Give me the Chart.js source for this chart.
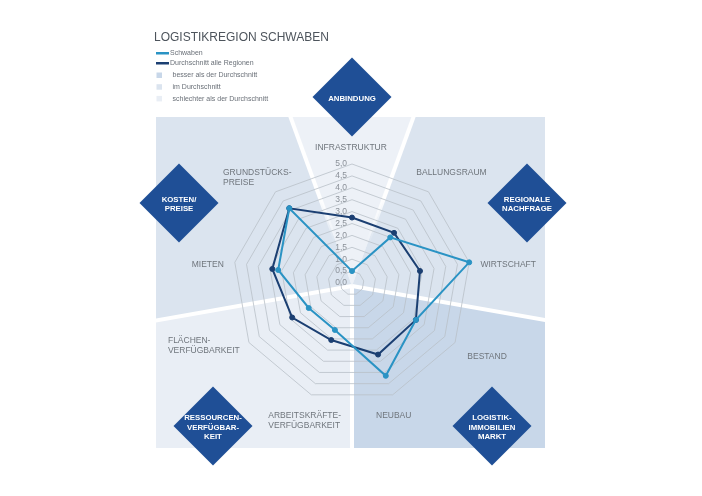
<!DOCTYPE html>
<html>
<head>
<meta charset="utf-8">
<script src="https://cdn.jsdelivr.net/npm/chart.js@4/dist/chart.umd.min.js"></script>
<style>
html,body{margin:0;padding:0;background:#ffffff;}
canvas{display:block;}
</style>
</head>
<body>
<canvas id="c" width="702" height="496"></canvas>
<script>
// ---- data ----
const categories = [
  'INFRASTRUKTUR',
  'BALLUNGSRAUM',
  'WIRTSCHAFT',
  'BESTAND',
  'NEUBAU',
  ['ARBEITSKRÄFTE-', 'VERFÜGBARKEIT'],
  ['FLÄCHEN-', 'VERFÜGBARKEIT'],
  'MIETEN',
  ['GRUNDSTÜCKS-', 'PREISE']
];
const schwaben     = [0.5, 2.5, 5.0, 3.1, 4.15, 2.1, 2.1, 3.15, 4.1];
const durchschnitt = [2.75, 2.75, 2.9, 3.1, 3.2, 2.55, 2.9, 3.4, 4.1];
const tickValues = [0, 0.5, 1, 1.5, 2, 2.5, 3, 3.5, 4, 4.5, 5];
const seriesNames = ['Schwaben', 'Durchschnitt alle Regionen'];
const ratingNames = ['besser als der Durchschnitt', 'im Durchschnitt', 'schlechter als der Durchschnitt'];
const groupNames = [
  ['ANBINDUNG'],
  ['REGIONALE', 'NACHFRAGE'],
  ['LOGISTIK-', 'IMMOBILIEN', 'MARKT'],
  ['RESSOURCEN-', 'VERFÜGBAR-', 'KEIT'],
  ['KOSTEN/', 'PREISE']
];
const groupRatings = [2, 1, 0, 2, 1]; // index into ratingNames
const titleText = 'LOGISTIKREGION SCHWABEN';

// ---- styles / layout ----
const FONT = '"Liberation Sans", Arial, sans-serif';
const colSchwaben = '#2a93c4';
const colAvg = '#1b3f72';
const ratingColors = ['#c8d7e9', '#dbe4ef', '#e9eef5'];
const wedgeColor = '#edf1f7';
const diamondColor = '#1f4f96';
const panel = {x: 156, y: 117, w: 389, h: 331};
// sector boundaries (deg clockwise from top)
const sectorFrom = [340, 20, 100, 180, 260];
const sectorTo   = [380, 100, 180, 260, 340];
const diamondPos = [[352, 97], [527, 203], [492, 426], [213, 426], [179, 203]];
const labelOffsets = [[-1, -16], [23, -19], [39, 2], [32, 14], [1, 21], [-43, 21], [-81, -1.5], [-27, 2], [-52.5, -19]];
const labelAlign = ['center', 'center', 'center', 'center', 'center', 'left', 'left', 'center', 'left'];

const rad = d => (d - 90) * Math.PI / 180;

const bgPlugin = {
  id: 'bg',
  beforeDraw(chart) {
    const ctx = chart.ctx, s = chart.scales.r;
    const cx = s.xCenter, cy = s.yCenter;
    const ox = cx, oy = cy + 3; // origin of the background sectors
    ctx.save();
    ctx.fillStyle = '#ffffff';
    ctx.fillRect(0, 0, chart.width, chart.height);
    ctx.beginPath();
    ctx.rect(panel.x, panel.y, panel.w, panel.h);
    ctx.clip();
    sectorFrom.forEach((f, i) => {
      ctx.beginPath();
      ctx.moveTo(ox, oy);
      ctx.arc(ox, oy, 1200, rad(f), rad(sectorTo[i]));
      ctx.closePath();
      ctx.fillStyle = i === 0 ? wedgeColor : ratingColors[groupRatings[i]];
      ctx.fill();
    });
    // tick labels
    ctx.font = '8.5px ' + FONT;
    ctx.fillStyle = '#8a9098';
    ctx.textAlign = 'right';
    ctx.textBaseline = 'middle';
    tickValues.forEach(v => {
      const d = s.getDistanceFromCenterForValue(v);
      ctx.fillText(v.toFixed(1).replace('.', ','), cx - 5, cy - d);
    });
    // white separator lines
    ctx.lineWidth = 4;
    sectorFrom.forEach((f, i) => {
      const ex = ox + 1200 * Math.cos(rad(f)), ey = oy + 1200 * Math.sin(rad(f));
      ctx.beginPath();
      if (i < 2) {
        // wedge edges fade out towards the centre
        const g = ctx.createLinearGradient(
          ox + 45 * Math.cos(rad(f)), oy + 45 * Math.sin(rad(f)),
          ox + 95 * Math.cos(rad(f)), oy + 95 * Math.sin(rad(f)));
        g.addColorStop(0, 'rgba(255,255,255,0)');
        g.addColorStop(1, 'rgba(255,255,255,1)');
        ctx.strokeStyle = g;
      } else {
        ctx.strokeStyle = '#ffffff';
      }
      ctx.moveTo(ox, oy);
      ctx.lineTo(ex, ey);
      ctx.stroke();
    });
    ctx.restore();
  },
  afterDraw(chart) {
    const ctx = chart.ctx, s = chart.scales.r;
    ctx.save();
    // point labels
    ctx.font = '8.5px ' + FONT;
    ctx.fillStyle = '#6f757c';
    ctx.textBaseline = 'middle';
    categories.forEach((lab, i) => {
      const p = s.getPointPosition(i, s.drawingArea);
      const lines = Array.isArray(lab) ? lab : [lab];
      ctx.textAlign = labelAlign[i];
      const x = p.x + labelOffsets[i][0];
      const y0 = p.y + labelOffsets[i][1];
      lines.forEach((ln, k) => ctx.fillText(ln, x, y0 + k * 10));
    });
    // diamonds
    const half = 39.5;
    groupNames.forEach((lines, i) => {
      const [dx, dy] = diamondPos[i];
      ctx.beginPath();
      ctx.moveTo(dx, dy - half);
      ctx.lineTo(dx + half, dy);
      ctx.lineTo(dx, dy + half);
      ctx.lineTo(dx - half, dy);
      ctx.closePath();
      ctx.fillStyle = diamondColor;
      ctx.fill();
      ctx.font = 'bold 7.8px ' + FONT;
      ctx.fillStyle = '#ffffff';
      ctx.textAlign = 'center';
      ctx.textBaseline = 'middle';
      const lh = 9.6;
      const top = dy + 1.5 - (lines.length - 1) * lh / 2;
      lines.forEach((ln, k) => ctx.fillText(ln, dx, top + k * lh));
    });
    // title
    ctx.font = '12px ' + FONT;
    ctx.fillStyle = '#4d545c';
    ctx.textAlign = 'left';
    ctx.textBaseline = 'alphabetic';
    ctx.fillText(titleText, 154, 41);
    // legend
    ctx.font = '7px ' + FONT;
    ctx.textBaseline = 'middle';
    ctx.fillStyle = colSchwaben;
    ctx.fillRect(156, 52, 13, 2.5);
    ctx.fillStyle = colAvg;
    ctx.fillRect(156, 62, 13, 2.5);
    ctx.fillStyle = '#6a7078';
    ctx.fillText(seriesNames[0], 170, 53.5);
    ctx.fillText(seriesNames[1], 170, 63.5);
    ratingNames.forEach((t, k) => {
      const y = 75.5 + k * 11.7;
      ctx.fillStyle = ratingColors[k];
      ctx.fillRect(156.5, y - 3, 5.5, 5.5);
      ctx.fillStyle = '#6a7078';
      ctx.fillText(t, 172.5, y);
    });
    ctx.restore();
  }
};

new Chart(document.getElementById('c'), {
  type: 'radar',
  data: {
    labels: categories,
    datasets: [
      {label: seriesNames[0], data: schwaben, borderColor: colSchwaben, backgroundColor: colSchwaben,
       pointBackgroundColor: colSchwaben, pointBorderColor: colSchwaben, fill: false},
      {label: seriesNames[1], data: durchschnitt, borderColor: colAvg, backgroundColor: colAvg,
       pointBackgroundColor: colAvg, pointBorderColor: colAvg, fill: false}
    ]
  },
  options: {
    responsive: false,
    animation: false,
    devicePixelRatio: 1,
    layout: {padding: {left: 233, right: 231, top: 164, bottom: 94}},
    plugins: {legend: {display: false}, tooltip: {enabled: false}},
    elements: {
      line: {borderWidth: 2, tension: 0},
      point: {radius: 2.5, borderWidth: 1}
    },
    scales: {
      r: {
        min: 0, max: 5,
        ticks: {stepSize: 0.5, display: false},
        pointLabels: {display: false},
        angleLines: {display: false},
        grid: {color: '#b9c0c8', lineWidth: 0.8}
      }
    }
  },
  plugins: [bgPlugin]
});
</script>
</body>
</html>
